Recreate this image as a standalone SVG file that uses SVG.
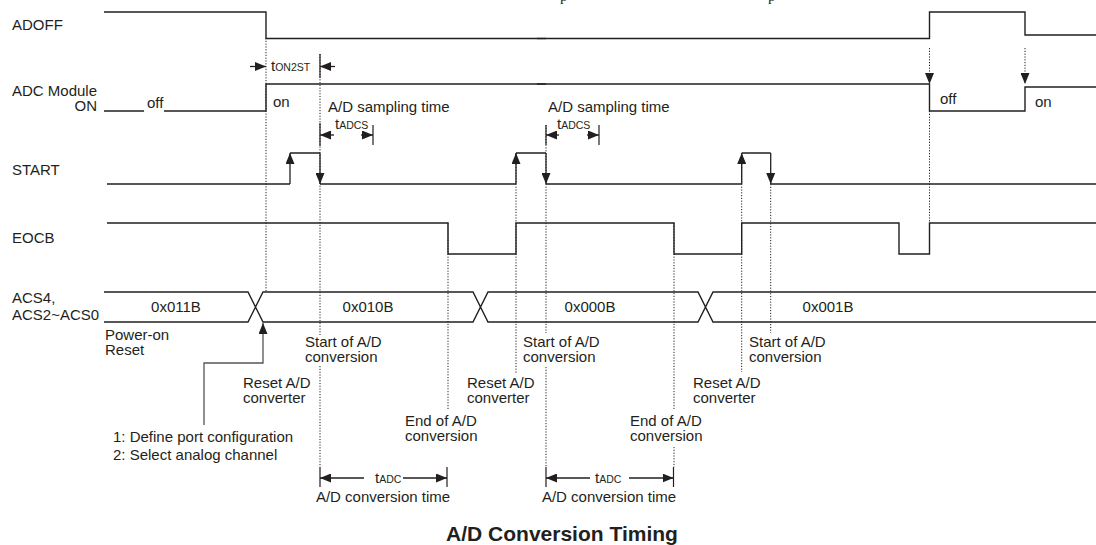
<svg xmlns="http://www.w3.org/2000/svg" width="1096" height="545" viewBox="0 0 1096 545">
<defs>
<style>
.t{font-family:"Liberation Sans",Arial,sans-serif;font-size:15px;fill:#231f20}
.s{font-size:10.5px}
.sig{fill:none;stroke:#231f20;stroke-width:1.4}
.dot{fill:none;stroke:#231f20;stroke-width:1;stroke-dasharray:1.2 1.6}
.tk{fill:none;stroke:#231f20;stroke-width:1.2}
.ar{fill:none;stroke:#231f20;stroke-width:1.3;marker-end:url(#ah)}
</style>
<marker id="ah" markerUnits="userSpaceOnUse" markerWidth="11" markerHeight="9" viewBox="0 0 11 9" refX="11" refY="4.5" orient="auto"><path d="M0,0 L11,4.5 L0,9 z" fill="#231f20"/></marker>
</defs>
<rect width="1096" height="545" fill="#fff"/>
<text class="t" x="560" y="0.5" style="font-family:'Liberation Serif',serif">p</text>
<text class="t" x="768" y="0.5" style="font-family:'Liberation Serif',serif">p</text>

<g id="adoff">
<text class="t" x="12" y="30">ADOFF</text>
<path class="sig" d="M104,12 H266 V38.5 H929.5 V12 H1025 V35 H1096"/>
<path class="sig" stroke-width="2.4" d="M537,38.5 H546"/>
</g>

<g id="adc-module">
<text class="t" x="12" y="96">ADC Module</text>
<text class="t" x="97" y="111" text-anchor="end">ON</text>
<text class="t" x="147" y="108">off</text>
<text class="t" x="273" y="107">on</text>
<text class="t" x="328" y="112">A/D sampling time</text>
<text class="t" x="548" y="112">A/D sampling time</text>
<text class="t" x="940" y="104">off</text>
<text class="t" x="1035" y="107">on</text>
<path class="sig" d="M104,111 H144 M164,111 H266 V84 H929.5 V111 H1025 V87 H1096"/>
<path class="sig" stroke-width="2.4" d="M537,84 H546"/>
</g>

<g id="start">
<text class="t" x="12" y="175">START</text>
<path class="sig" d="M107,184 H290 M290,153 H320 M320,184 H516 M516,153 H546 M546,184 H741.7 M741.7,153 H770.7 M770.7,184 H1096"/>
<line class="ar" x1="290" y1="184" x2="290" y2="153"/>
<line class="ar" x1="320" y1="153" x2="320" y2="184"/>
<line class="ar" x1="516" y1="184" x2="516" y2="153"/>
<line class="ar" x1="546" y1="153" x2="546" y2="184"/>
<line class="ar" x1="741.7" y1="184" x2="741.7" y2="153"/>
<line class="ar" x1="770.7" y1="153" x2="770.7" y2="184"/>
</g>

<g id="eocb">
<text class="t" x="12" y="243">EOCB</text>
<path class="sig" d="M107,223 H448 V254 H516 V223 H674 V254 H741.7 V223 H899 V254 H929.5 V223 H1096"/>
</g>

<g id="acs">
<text class="t" x="12" y="303">ACS4,</text>
<text class="t" x="12" y="320">ACS2~ACS0</text>
<path class="sig" d="M104,292 H248 L263,322 H473 L488,292 H698 L713,322 H1096 M104,322 H248 L263,292 H473 L488,322 H698 L713,292 H1096"/>
<text class="t" x="176" y="312" text-anchor="middle">0x011B</text>
<text class="t" x="368" y="312" text-anchor="middle">0x010B</text>
<text class="t" x="590" y="312" text-anchor="middle">0x000B</text>
<text class="t" x="828" y="312" text-anchor="middle">0x001B</text>
<text class="t" x="105" y="340">Power-on</text>
<text class="t" x="105" y="355">Reset</text>
</g>

<g id="annotations">
<text class="t" x="305" y="347">Start of A/D</text>
<text class="t" x="305" y="362">conversion</text>
<text class="t" x="523" y="347">Start of A/D</text>
<text class="t" x="523" y="362">conversion</text>
<text class="t" x="749" y="347">Start of A/D</text>
<text class="t" x="749" y="362">conversion</text>
<text class="t" x="243" y="388">Reset A/D</text>
<text class="t" x="243" y="403">converter</text>
<text class="t" x="467" y="388">Reset A/D</text>
<text class="t" x="467" y="403">converter</text>
<text class="t" x="693" y="388">Reset A/D</text>
<text class="t" x="693" y="403">converter</text>
<text class="t" x="405" y="426">End of A/D</text>
<text class="t" x="405" y="441">conversion</text>
<text class="t" x="630" y="426">End of A/D</text>
<text class="t" x="630" y="441">conversion</text>
<text class="t" x="113" y="442">1: Define port configuration</text>
<text class="t" x="113" y="460">2: Select analog channel</text>
<text class="t" x="271" y="71">t<tspan class="s">ON2ST</tspan></text>
<text class="t" x="335" y="129">t<tspan class="s">ADCS</tspan></text>
<text class="t" x="557" y="129">t<tspan class="s">ADCS</tspan></text>
<text class="t" x="375" y="483">t<tspan class="s">ADC</tspan></text>
<text class="t" x="595" y="483">t<tspan class="s">ADC</tspan></text>
<text class="t" x="383" y="502" text-anchor="middle">A/D conversion time</text>
<text class="t" x="609" y="502" text-anchor="middle">A/D conversion time</text>
</g>

<g id="connectors">
<path class="dot" d="M266,38 V292 M320,54 V335 M320,366 V467 M448,223 V410 M516,153 V374 M546,125 V333 M546,367 V467 M674,223 V410 M674,447 V467 M741.7,153 V372 M770.7,184 V333 M929.5,111 V223"/>
<line class="dot" x1="929.5" y1="48" x2="929.5" y2="84" style="marker-end:url(#ah)"/>
<line class="dot" x1="1025" y1="48" x2="1025" y2="84" style="marker-end:url(#ah)"/>
<path class="tk" d="M320,54 V78 M320,123 V146 M373,125 V145 M546,125 V145 M599,125 V145 M320,467 V487 M447,467 V487 M546,467 V487 M673.5,467 V487"/>
<line class="ar" x1="250" y1="66.5" x2="266" y2="66.5"/>
<line class="ar" x1="335" y1="66.5" x2="320" y2="66.5"/>
<line class="ar" x1="334" y1="135" x2="320" y2="135"/>
<line class="ar" x1="361" y1="135" x2="373" y2="135"/>
<line class="ar" x1="559" y1="135" x2="546" y2="135"/>
<line class="ar" x1="587" y1="135" x2="599" y2="135"/>
<line class="ar" x1="364" y1="478" x2="320" y2="478"/>
<line class="ar" x1="403" y1="478" x2="447" y2="478"/>
<line class="ar" x1="590" y1="478" x2="546" y2="478"/>
<line class="ar" x1="629" y1="478" x2="673.5" y2="478"/>
<path d="M204,425 V363 H263 V323" fill="none" stroke="#555" stroke-width="1.3" marker-end="url(#ah)"/>
</g>

<text x="562" y="541" text-anchor="middle" style="font-family:'Liberation Sans',Arial,sans-serif;font-size:21px;font-weight:bold;fill:#231f20">A/D Conversion Timing</text>
</svg>
